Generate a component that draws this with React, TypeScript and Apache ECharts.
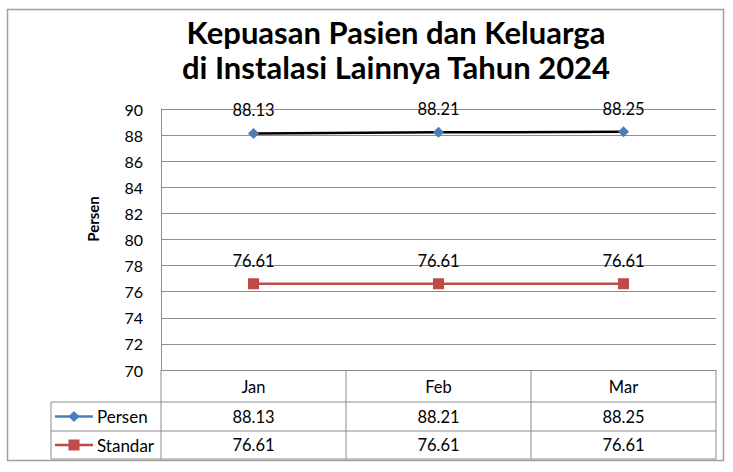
import React, { useEffect, useRef } from "react";
import * as echarts from "echarts";

const titleLines = ["Kepuasan Pasien dan Keluarga", "di Instalasi Lainnya Tahun 2024"];
const categories = ["Jan", "Feb", "Mar"];
const persenValues = [88.13, 88.21, 88.25];
const standarValues = [76.61, 76.61, 76.61];
const seriesNames = ["Persen", "Standar"];
const yAxisName = "Persen";
const yMin = 70;
const yMax = 90;
const yStep = 2;

const FONT = "Lato";
const GRID = "#8c8c8c";
const BLUE = "#4a7ebb";
const RED = "#be4b48";

export default function App() {
  const ref = useRef<HTMLDivElement>(null);
  useEffect(() => {
    const chart = echarts.init(ref.current!, null, { renderer: "svg" });
    const gridLeft = 161;
    const gridRight = 716;
    const gridTop = 109;
    const gridBottom = 370;
    chart.setOption({
      animation: false,
      backgroundColor: "#ffffff",
      textStyle: { fontFamily: FONT },
      title: {
        text: titleLines.join("\n"),
        left: 391,
        top: 9,
        textAlign: "center",
        textStyle: { fontFamily: FONT, fontSize: 31, fontWeight: "bold", color: "#000", lineHeight: 35 },
      },
      grid: { left: gridLeft, right: 733 - gridRight, top: gridTop, bottom: 472 - gridBottom },
      xAxis: {
        type: "category",
        data: categories,
        boundaryGap: true,
        axisLine: { lineStyle: { color: GRID } },
        axisTick: { show: false },
        axisLabel: { color: "#000", fontSize: 16.5, fontFamily: FONT, margin: 8 },
      },
      yAxis: {
        type: "value",
        min: yMin,
        max: yMax,
        interval: yStep,
        axisLine: { show: true, lineStyle: { color: GRID } },
        axisTick: { show: false },
        axisLabel: { color: "#000", fontSize: 16, fontFamily: FONT, margin: 18 },
        splitLine: { lineStyle: { color: GRID } },
      },
      series: [
        {
          name: seriesNames[0],
          type: "line",
          data: persenValues,
          symbol: "diamond",
          symbolSize: 11,
          itemStyle: { color: BLUE },
          lineStyle: { color: "#000", width: 2.5 },
          label: { show: true, position: "top", distance: 9, color: "#000", fontSize: 16.5, fontFamily: FONT, formatter: (p: any) => p.value.toFixed(2) },
          z: 3,
        },
        {
          name: seriesNames[1],
          type: "line",
          data: standarValues,
          symbol: "rect",
          symbolSize: 11,
          itemStyle: { color: RED },
          lineStyle: { color: RED, width: 2.5 },
          label: { show: true, position: "top", distance: 9, color: "#000", fontSize: 16.5, fontFamily: FONT, formatter: (p: any) => p.value.toFixed(2) },
          z: 2,
        },
      ],
    });

    const centers = categories.map((c) => chart.convertToPixel({ xAxisIndex: 0 }, c) as number);
    const half = categories.length > 1 ? (centers[1] - centers[0]) / 2 : (gridRight - gridLeft) / 2;
    const rowTop = 402;
    const row1Bottom = 431;
    const row2Bottom = 459;
    const tableLeft = 51;
    const ls = { stroke: GRID, lineWidth: 1 };
    const g: any[] = [];
    g.push({ type: "rect", shape: { x: 7.5, y: 9.5, width: 716, height: 451 }, style: { fill: "none", stroke: "#a0a0a0", lineWidth: 1.5 }, silent: true });
    g.push({ type: "text", x: 93, y: 219, rotation: Math.PI / 2, style: { text: yAxisName, font: `bold 15px ${FONT}`, fill: "#000", textAlign: "center", textVerticalAlign: "middle" } });
    g.push({ type: "line", shape: { x1: gridLeft, y1: gridBottom, x2: gridLeft, y2: row2Bottom }, style: ls });
    centers.forEach((c) => {
      g.push({ type: "line", shape: { x1: c + half, y1: gridBottom, x2: c + half, y2: row2Bottom }, style: ls });
    });
    [rowTop, row1Bottom, row2Bottom].forEach((y) => {
      g.push({ type: "line", shape: { x1: tableLeft, y1: y, x2: centers[centers.length - 1] + half, y2: y }, style: ls });
    });
    g.push({ type: "line", shape: { x1: tableLeft, y1: rowTop, x2: tableLeft, y2: row2Bottom }, style: ls });

    const rows = [
      { name: seriesNames[0], values: persenValues, color: BLUE, symbol: "diamond", y: (rowTop + row1Bottom) / 2 },
      { name: seriesNames[1], values: standarValues, color: RED, symbol: "rect", y: (row1Bottom + row2Bottom) / 2 },
    ];
    rows.forEach((r) => {
      g.push({ type: "line", shape: { x1: 55, y1: r.y, x2: 93, y2: r.y }, style: { stroke: r.color, lineWidth: 2.5 } });
      if (r.symbol === "diamond") {
        g.push({ type: "polygon", shape: { points: [[74, r.y - 5.5], [79.5, r.y], [74, r.y + 5.5], [68.5, r.y]] }, style: { fill: r.color } });
      } else {
        g.push({ type: "rect", shape: { x: 68.5, y: r.y - 5.5, width: 11, height: 11 }, style: { fill: r.color } });
      }
      g.push({ type: "text", x: 97, y: r.y, style: { text: r.name, font: `17px ${FONT}`, fill: "#000", textAlign: "left", textVerticalAlign: "middle" } });
      r.values.forEach((v, i) => {
        g.push({ type: "text", x: centers[i], y: r.y, style: { text: v.toFixed(2), font: `16.5px ${FONT}`, fill: "#000", textAlign: "center", textVerticalAlign: "middle" } });
      });
    });
    chart.setOption({ graphic: g });
    return () => chart.dispose();
  }, []);
  return <div ref={ref} style={{ position: "fixed", left: 0, top: 0, width: 733, height: 472 }} />;
}
